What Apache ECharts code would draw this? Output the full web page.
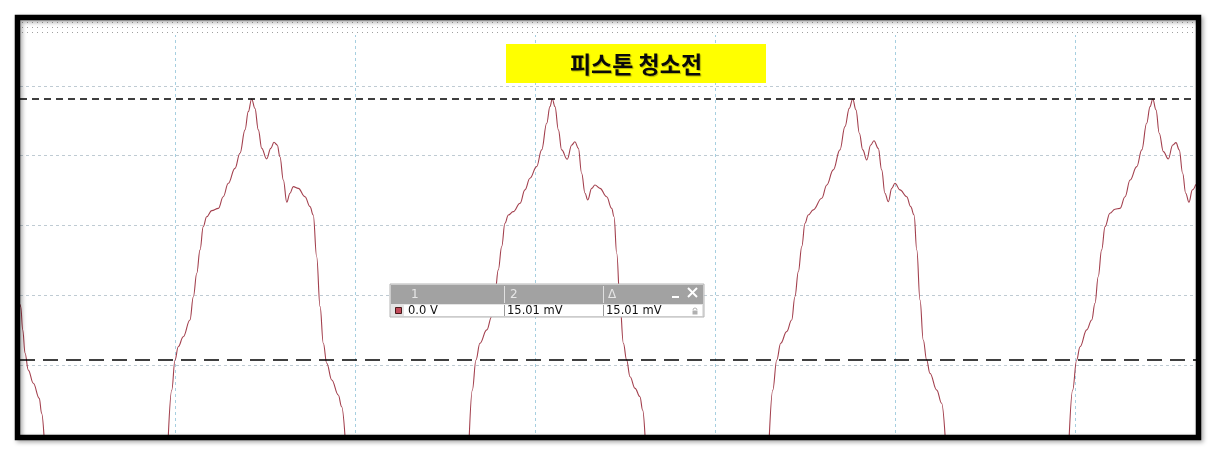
<!DOCTYPE html>
<html><head><meta charset="utf-8">
<script src="https://cdn.jsdelivr.net/npm/echarts@6/dist/echarts.min.js"></script>
<style>html,body{margin:0;padding:0;background:#fff}#c{width:1218px;height:456px}</style>
</head><body><div id="c"></div>
<script>
// ---- data (time in ms, voltage in mV) ----
const chartTitle = '피스톤 청소전';
const cursorHeaders = ['1', '2', 'Δ'];
const cursorValues = [0.0, 15.01];          // cursor 1, cursor 2 (mV)
const cursorTexts = ['0.0 V', '15.01 mV', '15.01 mV'];
const timeRange = [-8.611, 56.722];          // visible window (ms)
const voltRange = [-4.313, 19.78];           // visible window (mV)
const timeDivision = 10;                     // ms per division
const voltDivisions = 6;

const cycle0 = [[-8.61,3.2],[-8.57,3.07],[-8.46,1.73],[-8.33,0.39],[-8.15,-0.58],[-7.87,-1.34],[-7.54,-2.20],[-7.41,-3.07],[-7.28,-4.31]];
const cycle1 = [[-0.37,-4.31],[-0.18,-1.73],[0,0],[0.18,0.76],[0.46,1.34],[0.83,2.30],[1.02,3.64],[1.21,4.99],[1.39,6.33],[1.57,7.67],[1.76,8.24],[2.04,8.59],[2.41,8.72],[2.68,9.39],[2.96,10.16],[3.33,11.02],[3.61,11.89],[3.89,13.23],[4.07,14.28],[4.26,15.01],[4.44,14.47],[4.63,13.23],[4.82,12.17],[5.09,11.56],[5.32,12.17],[5.50,12.52],[5.68,12.36],[5.83,11.69],[6.02,10.35],[6.21,9.07],[6.39,9.59],[6.57,9.97],[6.85,9.87],[7.22,9.39],[7.50,8.82],[7.68,8.34],[7.87,5.94],[8.06,3.07],[8.24,0.96],[8.43,-0.19],[8.71,-1.15],[9.07,-2.01],[9.26,-2.69],[9.44,-4.31]];
const cycle2 = [[16.35,-4.31],[16.52,-1.73],[16.72,0],[16.94,0.96],[17.32,1.73],[17.59,2.49],[17.78,3.84],[17.96,5.18],[18.15,6.52],[18.33,7.86],[18.52,8.34],[18.79,8.53],[19.17,9.01],[19.44,9.78],[19.72,10.45],[20.09,11.12],[20.37,12.08],[20.65,13.61],[20.83,14.57],[20.96,15.01],[21.11,14.57],[21.30,13.23],[21.48,12.08],[21.79,11.54],[22.04,12.36],[22.22,12.55],[22.41,12.17],[22.59,10.74],[22.78,9.59],[22.93,9.20],[23.15,9.87],[23.33,10.06],[23.61,9.87],[23.98,9.39],[24.26,8.72],[24.39,8.24],[24.54,6.14],[24.72,3.26],[24.91,0.96],[25.09,0],[25.28,-0.96],[25.56,-1.63],[25.83,-2.11],[25.98,-2.88],[26.11,-4.31]];
const cycle3 = [[33.02,-4.31],[33.21,-1.73],[33.43,0],[33.65,0.96],[33.98,1.63],[34.26,2.30],[34.44,3.64],[34.63,5.08],[34.82,6.52],[35.00,7.86],[35.18,8.34],[35.46,8.63],[35.93,9.30],[36.21,10.06],[36.57,10.93],[36.94,12.08],[37.22,13.42],[37.46,14.47],[37.65,15.01],[37.83,14.38],[38.02,13.04],[38.21,12.08],[38.43,11.50],[38.65,12.36],[38.83,12.61],[39.07,12.17],[39.26,10.93],[39.44,9.59],[39.63,9.10],[39.82,9.87],[40.00,10.16],[40.28,9.78],[40.65,9.39],[40.87,8.82],[41.06,8.34],[41.21,6.33],[41.39,3.45],[41.57,1.15],[41.76,0],[41.94,-0.76],[42.32,-1.73],[42.59,-2.49],[42.78,-4.31]];
const cycle4 = [[49.68,-4.31],[49.87,-1.73],[50.09,0],[50.28,0.76],[50.65,1.73],[50.93,2.30],[51.11,3.26],[51.29,4.79],[51.48,6.33],[51.67,7.67],[51.94,8.44],[52.22,8.67],[52.50,8.72],[52.78,9.39],[53.06,10.35],[53.43,11.12],[53.71,12.08],[53.98,13.61],[54.17,14.57],[54.32,15.01],[54.50,14.38],[54.68,13.04],[54.91,11.98],[55.18,11.56],[55.43,12.36],[55.61,12.50],[55.79,12.08],[55.98,10.74],[56.15,9.59],[56.33,9.07],[56.52,9.78],[56.71,10.10]];
const cycles = [cycle0, cycle1, cycle2, cycle3, cycle4];

// ---- styling ----
const traceColor = '#a3404e';
const vGridColor = '#a6cfe0';
const hGridColor = '#bfcbd3';
const FONT = '"DejaVu Sans", sans-serif';

const chart = echarts.init(document.getElementById('c'));

// dotted band pattern
const pat = document.createElement('canvas');
pat.width = 5; pat.height = 5;
const pctx = pat.getContext('2d');
pctx.fillStyle = '#a0a0a0';
pctx.fillRect(2, 2, 1, 1);

const series = cycles.map((c, i) => ({
  type: 'line', data: c, xAxisIndex: 0, yAxisIndex: 0,
  showSymbol: false, smooth: 0.4, smoothMonotone: 'x', silent: true,
  lineStyle: { color: traceColor, width: 1.1 }, z: 3,
  markLine: i === 1 ? {
    silent: true, symbol: ['none', 'none'], label: { show: false },
    data: [
      { yAxis: cursorValues[1], lineStyle: { type: [7, 5], color: '#000', width: 1.5 } },
      { yAxis: cursorValues[0], lineStyle: { type: [15, 8], color: '#000', width: 1.5 } }
    ]
  } : undefined
}));

const boxX = 390, boxY = 284;
const colX = [404, 504, 603];
const graphics = [
  // dotted band at top of display
  { type: 'rect', z: 50, shape: { x: 20, y: 20, width: 1176, height: 15 }, style: { fill: '#ffffff' } },
  { type: 'rect', z: 51, shape: { x: 20, y: 20, width: 1176, height: 15 }, style: { fill: { image: pat, repeat: 'repeat' } } },
  // title
  { type: 'rect', z: 52, shape: { x: 506, y: 44, width: 260, height: 39 }, style: { fill: '#ffff00' } },
  { type: 'text', z: 53, x: 636, y: 64, style: { text: chartTitle, fill: '#0a0a0a', font: 'bold 23px "Noto Sans CJK KR"', align: 'center', verticalAlign: 'middle', textShadowColor: 'rgba(0,0,0,0.3)', textShadowBlur: 1, textShadowOffsetX: 1, textShadowOffsetY: 1 } },
  // cursor readout box
  { type: 'rect', z: 60, shape: { x: boxX, y: boxY, width: 314, height: 33 }, style: { fill: '#e4e4e4', stroke: '#b4b4b4', lineWidth: 1 } },
  { type: 'rect', z: 61, shape: { x: boxX + 1, y: boxY + 1, width: 312, height: 19 }, style: { fill: '#a2a2a2' } },
  { type: 'rect', z: 61, shape: { x: colX[0], y: boxY + 21, width: 298, height: 11 }, style: { fill: '#ffffff' } },
  { type: 'line', z: 62, shape: { x1: colX[1] + 0.5, y1: boxY + 2, x2: colX[1] + 0.5, y2: boxY + 19 }, style: { stroke: '#e0e0e0', lineWidth: 1 } },
  { type: 'line', z: 62, shape: { x1: colX[2] + 0.5, y1: boxY + 2, x2: colX[2] + 0.5, y2: boxY + 19 }, style: { stroke: '#e0e0e0', lineWidth: 1 } },
  { type: 'line', z: 62, shape: { x1: colX[1] + 0.5, y1: boxY + 21, x2: colX[1] + 0.5, y2: boxY + 32 }, style: { stroke: '#9a9a9a', lineWidth: 1 } },
  { type: 'line', z: 62, shape: { x1: colX[2] + 0.5, y1: boxY + 21, x2: colX[2] + 0.5, y2: boxY + 32 }, style: { stroke: '#9a9a9a', lineWidth: 1 } },
  // red trace marker
  { type: 'rect', z: 62, shape: { x: 395.5, y: 307.5, width: 6, height: 6 }, style: { fill: '#c24a5a', stroke: '#4a1a1a', lineWidth: 1 } },
  // minimise / close
  { type: 'rect', z: 62, shape: { x: 672, y: 296, width: 7, height: 2 }, style: { fill: '#ffffff' } },
  { type: 'line', z: 62, shape: { x1: 688, y1: 288, x2: 697, y2: 297 }, style: { stroke: '#ffffff', lineWidth: 2 } },
  { type: 'line', z: 62, shape: { x1: 697, y1: 288, x2: 688, y2: 297 }, style: { stroke: '#ffffff', lineWidth: 2 } },
  // lock icon
  { type: 'rect', z: 62, shape: { x: 692.5, y: 310.5, width: 5, height: 4 }, style: { fill: '#b0b0b0' } },
  { type: 'arc', z: 62, shape: { cx: 695, cy: 310, r: 2, startAngle: Math.PI, endAngle: 0 }, style: { stroke: '#b0b0b0', fill: 'none', lineWidth: 1 } },
  // outer frame
  { type: 'rect', z: 100, shape: { x: 17.5, y: 17.5, width: 1181, height: 420 }, style: { fill: 'none', stroke: '#000', lineWidth: 5.5, shadowBlur: 4, shadowColor: 'rgba(0,0,0,0.35)', shadowOffsetX: 2, shadowOffsetY: 2 } }
];
const hdrX = [411, 510, 608];
cursorHeaders.forEach((h, i) => graphics.push({ type: 'text', z: 63, x: hdrX[i], y: boxY + 11, style: { text: h, fill: '#e6e6e6', font: '12px ' + FONT, verticalAlign: 'middle' } }));
const valX = [408, 507, 606];
cursorTexts.forEach((t, i) => graphics.push({ type: 'text', z: 63, x: valX[i], y: boxY + 27, style: { text: t, fill: '#111', font: '11.5px ' + FONT, verticalAlign: 'middle' } }));

chart.setOption({
  animation: false,
  backgroundColor: '#ffffff',
  grid: { left: 20, right: 22, top: 16, bottom: 21, containLabel: false },
  xAxis: [{
    type: 'value', min: timeRange[0], max: timeRange[1],
    minInterval: timeDivision, maxInterval: timeDivision,
    axisLine: { show: false }, axisTick: { show: false }, axisLabel: { show: false },
    splitLine: { show: true, showMinLine: false, showMaxLine: false, lineStyle: { color: vGridColor, type: [3, 3], width: 1 } }
  }],
  yAxis: [{
    type: 'value', min: voltRange[0], max: voltRange[1], show: false,
    splitLine: { show: false }
  }, {
    type: 'value', min: 0, max: voltDivisions, interval: 1,
    axisLine: { show: false }, axisTick: { show: false }, axisLabel: { show: false },
    splitLine: { show: true, lineStyle: { color: hGridColor, type: [3, 3], width: 1 } }
  }],
  series: series,
  graphic: graphics
});
</script></body></html>
